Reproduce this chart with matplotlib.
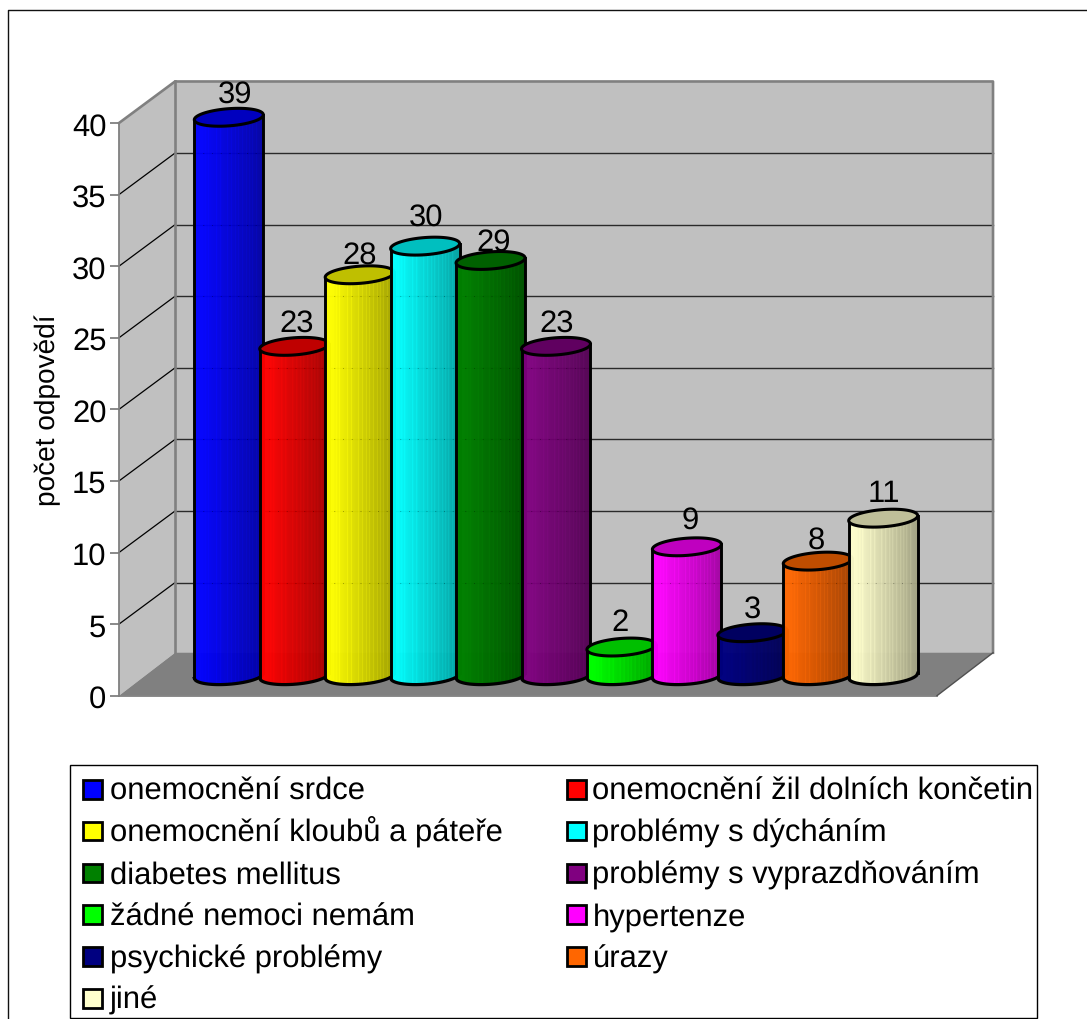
import numpy as np
import matplotlib.pyplot as plt
from matplotlib.lines import Line2D
from matplotlib.patches import Rectangle

plt.rcParams['font.family'] = ['Liberation Sans', 'DejaVu Sans']
plt.rcParams['text.hinting'] = 'no_hinting'
plt.rcParams['text.hinting_factor'] = 1

labels = ['onemocnění srdce', 'onemocnění žil dolních končetin', 'onemocnění kloubů a páteře',
          'problémy s dýcháním', 'diabetes mellitus', 'problémy s vyprazdňováním',
          'žádné nemoci nemám', 'hypertenze', 'psychické problémy', 'úrazy', 'jiné']
values = [39, 23, 28, 30, 29, 23, 2, 9, 3, 8, 11]
colors = ['#0000ff', '#ff0000', '#ffff00', '#00ffff', '#008000', '#800080',
          '#00ff00', '#ff00ff', '#000080', '#ff6600', '#ffffcc']
yticks = [0, 5, 10, 15, 20, 25, 30, 35, 40]

# depth of the 3D box, in data units
depth_x = 0.856
depth_y = 2.9
floor_y = 3.0
# cylinders stand in the middle of the box
bar_dx = 0.428
bar_dy = 1.4
radius = 0.527
tilt = 0.175
minor = 0.6

# value labels do not sit evenly above the caps, nudges in pixels
nudge_x = [4, 0, -2, -1, 1, -1, -3, 1, -2, -3, -1]
nudge_y = [1, 1, -3, 6, -4, 1, 2, 4, 1, -2, 2]

# lighter columns on the cylinder surface
n_strips = 69
light_strips = [5, 8, 11, 14, 22, 26, 33, 37, 41, 44, 48, 52, 55, 58, 62]


def rgb(c):
    return np.array(plt.matplotlib.colors.to_rgb(c))


def draw_cylinder(ax, i, value, color, z):
    cx = i + bar_dx
    y0 = bar_dy
    y1 = value + bar_dy
    base = rgb(color)

    edges = np.linspace(-1, 1, n_strips + 1)
    for k in range(n_strips):
        u = (k + 0.5) / n_strips
        shade = 1.0 - 0.36 * max(0, u - 0.1) / 0.9
        if k in light_strips:
            shade = min(1.0, shade + 0.06)
        t = np.linspace(edges[k], edges[k + 1], 4)
        xs = cx + radius * t
        low = y0 + tilt * t - minor * np.sqrt(1 - t ** 2)
        high = y1 + tilt * t - minor * np.sqrt(1 - t ** 2)
        ax.fill(np.r_[xs, xs[::-1]], np.r_[low, high[::-1]], color=base * shade,
                lw=0.4, zorder=z, clip_on=False)

    # the wall grid shows faintly through the body as dots
    for v in yticks[1:-1]:
        if v + depth_y < y1 - 1:
            ax.plot([cx - radius, cx + radius], [v + depth_y] * 2, color='black', alpha=0.3, lw=0.7,
                    ls=(0, (1, 8)), zorder=z + 0.05, clip_on=False)

    # outline of the body and the top cap
    a = np.linspace(0, 2 * np.pi, 120)
    cap_x = cx + radius * np.cos(a)
    cap_y = y1 + tilt * np.cos(a) + minor * np.sin(a)
    ax.fill(cap_x, cap_y, facecolor=base * 0.75, edgecolor='black', lw=2.2, zorder=z + 0.2, clip_on=False)

    t = np.linspace(-1, 1, 80)
    ax.plot(cx + radius * t, y0 + tilt * t - minor * np.sqrt(1 - t ** 2), color='black', lw=2.3,
            zorder=z + 0.1, clip_on=False)
    ax.plot([cx - radius] * 2, [y0 - tilt, y1 - tilt], color='black', lw=2.1, zorder=z + 0.1, clip_on=False)
    ax.plot([cx + radius] * 2, [y0 + tilt, y1 + tilt], color='black', lw=2.1, zorder=z + 0.1, clip_on=False)

    ax.annotate(str(value), (cx, y1), xytext=(0.72 * (2 + nudge_x[i]), 0.72 * (15 + nudge_y[i])),
                textcoords='offset points', ha='center', va='baseline', fontsize=22, color='black',
                zorder=50, annotation_clip=False)


fig = plt.figure(figsize=(10.87, 10.2), dpi=100)
ax = fig.add_axes([119 / 1087, 1 - 696.7 / 1020, (937 - 119) / 1087, (696.7 - 124) / 1020])
ax.set_xlim(-1.25, 11.25)
ax.set_ylim(0, 40)
ax.patch.set_visible(False)

x0, x1 = ax.get_xlim()
bx0 = x0 + depth_x
bx1 = x1 + depth_x
top = 40 + depth_y

# walls and floor
ax.fill([bx0, bx1, bx1, bx0], [floor_y, floor_y, top, top], color='#c0c0c0', lw=0, clip_on=False, zorder=1)
ax.fill([x0, bx0, bx0, x0], [0, floor_y, top, 40], color='#c0c0c0', lw=0, clip_on=False, zorder=1)
ax.fill([x0, x1, bx1, bx0], [0, 0, floor_y, floor_y], color='#808080', lw=0, clip_on=False, zorder=1)

# grid on the back and side wall
for v in yticks[1:-1]:
    ax.plot([bx0, bx1], [v + depth_y] * 2, color='#2a2a2a', lw=1.0, clip_on=False, zorder=2)
    ax.plot([x0, bx0], [v, v + depth_y], color='black', lw=0.9, clip_on=False, zorder=2)

ax.plot([x0, bx0, bx1, bx1], [40, top, top, floor_y], color='#808080', lw=1.9, clip_on=False, zorder=3)
ax.plot([bx0, bx0], [floor_y, top], color='#808080', lw=1.9, clip_on=False, zorder=3)
ax.plot([x1, bx1], [0, floor_y], color='#505050', lw=1.0, clip_on=False, zorder=3)

for i, (value, color) in enumerate(zip(values, colors)):
    draw_cylinder(ax, i, value, color, 10 + i)

for side in ['top', 'right']:
    ax.spines[side].set_visible(False)
for side in ['left', 'bottom']:
    ax.spines[side].set_color('#808080')
    ax.spines[side].set_linewidth(1.3)
ax.set_xticks([])
ax.set_yticks(yticks)
ax.tick_params(axis='y', length=6.5, width=1.3, color='#808080', labelsize=22, labelcolor='black', pad=2.5)
ax.set_ylabel('počet odpovědí', fontsize=20, labelpad=8)

# legend frame
fig.add_artist(Rectangle((69.5 / 1087, 1 - 1019 / 1020), 967 / 1087, 253 / 1020, transform=fig.transFigure,
                         facecolor='white', edgecolor='black', lw=1.0))

# legend entries run row by row in two columns
for i, (label, color) in enumerate(zip(labels, colors)):
    col_x = [83, 567][i % 2]
    text_x = [109.5, 592.5][i % 2]
    baseline = 800 + 41.8 * (i // 2)
    fig.add_artist(Rectangle((col_x / 1087, 1 - (baseline - 0.5) / 1020), 18.5 / 1087, 18.5 / 1020,
                             transform=fig.transFigure, facecolor=color, edgecolor='black', lw=2.0))
    fig.text(text_x / 1087, 1 - baseline / 1020, label, fontsize=22, va='baseline', ha='left')

# chart frame, open on the right and at the bottom
fig.add_artist(Line2D([8 / 1087, 8 / 1087, 1], [0, 1 - 10.5 / 1020, 1 - 10.5 / 1020], color='#111111', lw=1.0))

fig.savefig('out.png', dpi=100)
